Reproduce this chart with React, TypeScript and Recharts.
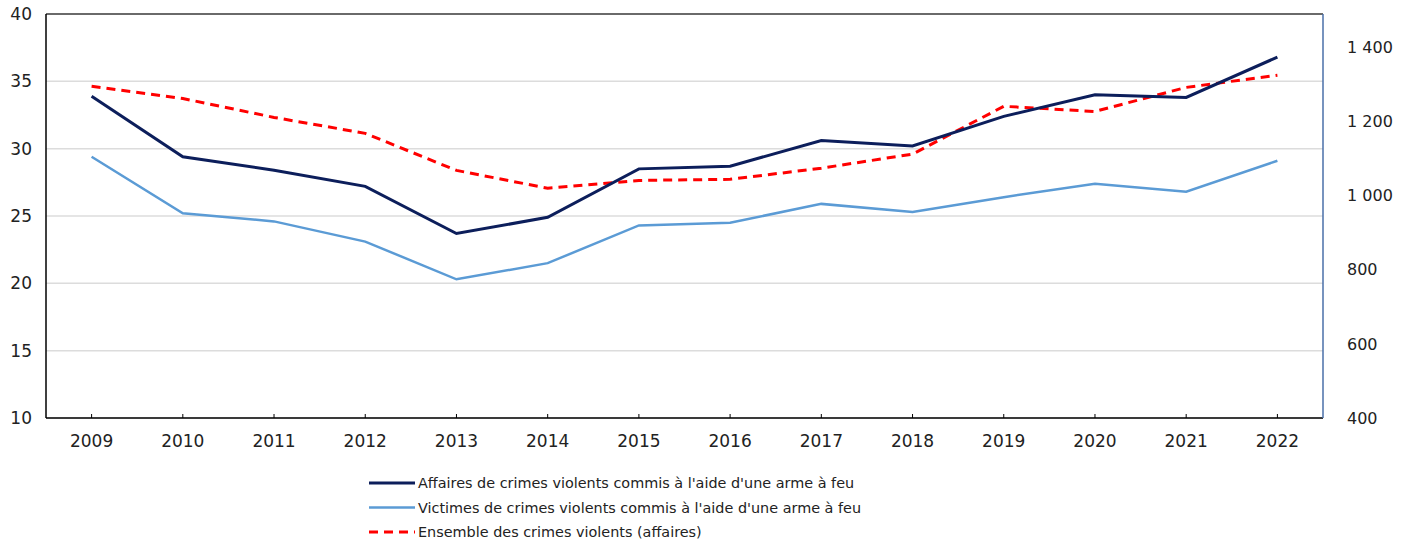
import React from "react";
import {
  LineChart,
  Line,
  XAxis,
  YAxis,
  CartesianGrid,
  ReferenceLine,
  Legend,
} from "recharts";

const years = ["2009","2010","2011","2012","2013","2014","2015","2016","2017","2018","2019","2020","2021","2022"];
const affairesArme = [33.9, 29.4, 28.4, 27.2, 23.7, 24.9, 28.5, 28.7, 30.6, 30.2, 32.4, 34.0, 33.8, 36.8];
const victimesArme = [29.4, 25.2, 24.6, 23.1, 20.3, 21.5, 24.3, 24.5, 25.9, 25.3, 26.4, 27.4, 26.8, 29.1];
const ensembleViolents = [1295, 1262, 1211, 1168, 1068, 1020, 1041, 1044, 1074, 1112, 1241, 1227, 1292, 1325];

const leftTicks = [10, 15, 20, 25, 30, 35, 40];
const rightTicks = [400, 600, 800, 1000, 1200, 1400];

const seriesNames = [
  "Affaires de crimes violents commis à l'aide d'une arme à feu",
  "Victimes de crimes violents commis à l'aide d'une arme à feu",
  "Ensemble des crimes violents (affaires)",
];

const data = years.map((y, i) => ({
  year: y,
  affaires: affairesArme[i],
  victimes: victimesArme[i],
  ensemble: ensembleViolents[i],
}));

const FONT = "'DejaVu Sans', Verdana, sans-serif";
const TEXT = "#222";

const fmtRight = (v: number) => {
  const s = String(v);
  return s.length > 3 ? s.slice(0, s.length - 3) + " " + s.slice(-3) : s;
};

const XTick = (props: any) => {
  const { x, y, payload } = props;
  return (
    <g>
      <line x1={x} x2={x} y1={y} y2={y - 4} stroke="#000" strokeWidth={1} />
      <text x={x} y={y + 23} textAnchor="middle" dominantBaseline="central" fontFamily={FONT} fontSize={17} fill={TEXT}>
        {payload.value}
      </text>
    </g>
  );
};

const LegendContent = () => {
  const items = [
    { color: "#0c1e5b", width: 3, dash: undefined },
    { color: "#5b9bd5", width: 2.5, dash: undefined },
    { color: "#ff0000", width: 3, dash: "9 6" },
  ];
  return (
    <svg width={520} height={80}>
      {items.map((it, i) => (
        <g key={i}>
          <line x1={2} x2={48} y1={11 + i * 24.5} y2={11 + i * 24.5} stroke={it.color} strokeWidth={it.width} strokeDasharray={it.dash} />
          <text x={51} y={11 + i * 24.5} dominantBaseline="central" fontFamily={FONT} fontSize={14.4} fill={TEXT}>
            {seriesNames[i]}
          </text>
        </g>
      ))}
    </svg>
  );
};

export default function App() {
  return (
    <div style={{ position: "absolute", left: 0, top: 0, background: "#fff" }}>
      <LineChart width={1413} height={546} data={data} margin={{ top: 14, right: 0, bottom: 88, left: 0 }}>
        <CartesianGrid vertical={false} stroke="#dcdcdc" strokeWidth={1.5} yAxisId="left" />
        <XAxis
          dataKey="year"
          xAxisId={0}
          height={40}
          padding={{ left: 45.6, right: 45.6 }}
          axisLine={{ stroke: "#000", strokeWidth: 1.5 }}
          tickLine={false}
          tickSize={0}
          tickMargin={0}
          tick={<XTick />}
          interval={0}
        />
        <YAxis
          yAxisId="left"
          orientation="left"
          width={46}
          domain={[10, 40]}
          ticks={leftTicks}
          interval={0}
          axisLine={{ stroke: "#000", strokeWidth: 1.5 }}
          tickLine={false}
          tickMargin={8}
          tick={{ fontFamily: FONT, fontSize: 17, fill: TEXT }}
        />
        <YAxis
          yAxisId="right"
          orientation="right"
          width={90}
          domain={[400, 1490]}
          ticks={rightTicks}
          interval={0}
          allowDataOverflow
          axisLine={{ stroke: "#4a6fa8", strokeWidth: 1.5 }}
          tickLine={false}
          tickMargin={18}
          tickFormatter={fmtRight}
          tick={{ fontFamily: FONT, fontSize: 16, fill: TEXT }}
        />
        <ReferenceLine yAxisId="left" y={40} stroke="#404040" strokeWidth={1.5} />
        <Line yAxisId="left" dataKey="victimes" name={seriesNames[1]} stroke="#5b9bd5" strokeWidth={2.5} dot={false} isAnimationActive={false} />
        <Line yAxisId="right" dataKey="ensemble" name={seriesNames[2]} stroke="#ff0000" strokeWidth={3} strokeDasharray="9 6" dot={false} isAnimationActive={false} />
        <Line yAxisId="left" dataKey="affaires" name={seriesNames[0]} stroke="#0c1e5b" strokeWidth={3} dot={false} isAnimationActive={false} />
        <Legend
          layout="vertical"
          align="center"
          verticalAlign="middle"
          content={<LegendContent />}
          wrapperStyle={{ position: "absolute", left: 367, top: 472, width: 520, height: 80 }}
        />
      </LineChart>
    </div>
  );
}
